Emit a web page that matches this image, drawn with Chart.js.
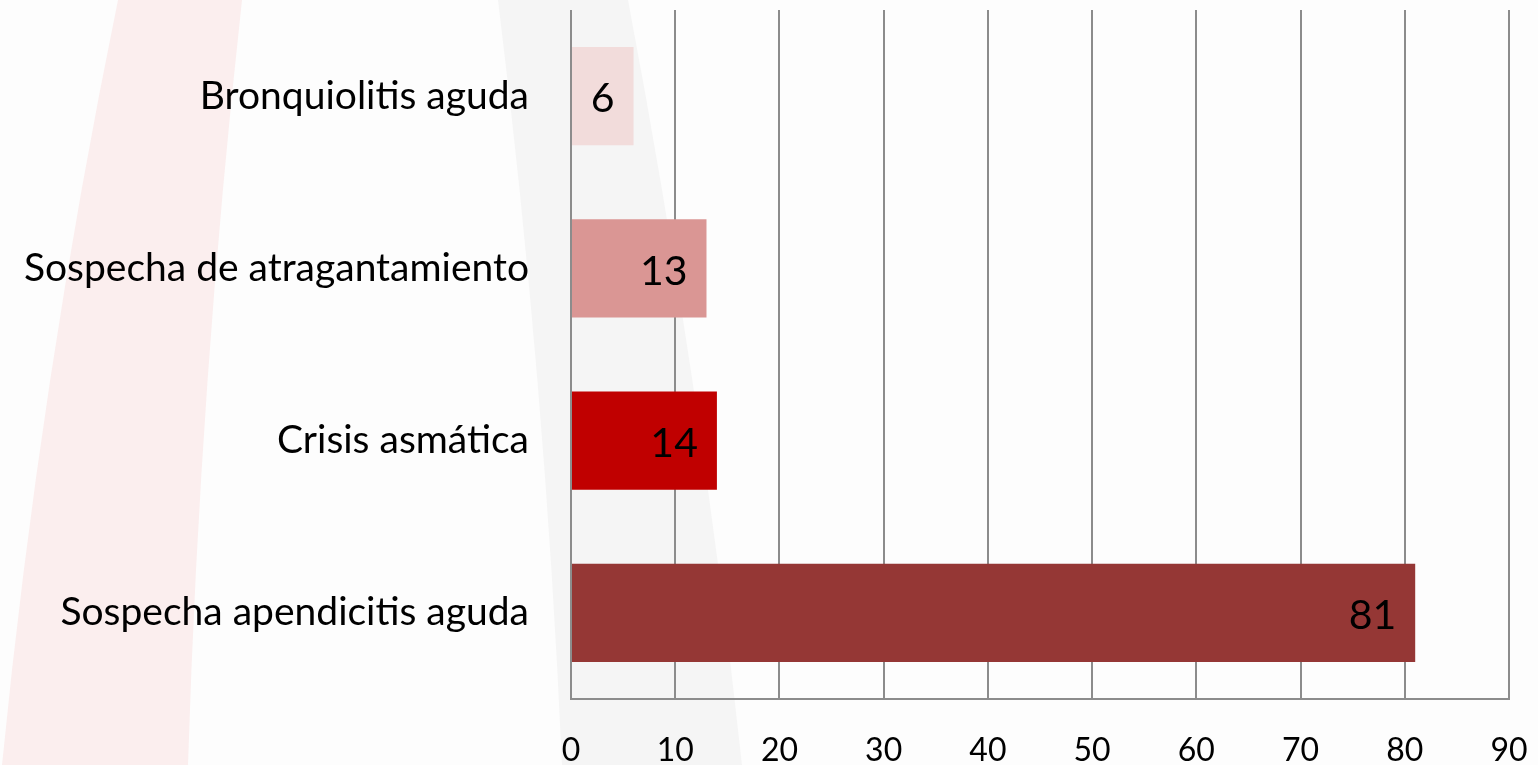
<!DOCTYPE html>
<html lang="es">
<head>
    <meta charset="UTF-8">
    <title>Motivos de consulta</title>
    <script src="https://cdn.jsdelivr.net/npm/chart.js"></script>
    <style>
        html, body { margin: 0; padding: 0; background: #fdfdfd; }
        #wrap { width: 1538px; height: 765px; position: relative; }
    </style>
</head>
<body>
<div id="wrap"><canvas id="chart"></canvas></div>
<script>
    // Datos
    const categorias = ['Bronquiolitis aguda', 'Sospecha de atragantamiento', 'Crisis asmática', 'Sospecha apendicitis aguda'];
    const valores = [6, 13, 14, 81];
    const colores = ['#F2DCDB', '#DA9694', '#C00000', '#953735'];
    const ejeMin = 0, ejeMax = 90, ejePaso = 10;

    const FUENTE = 'Lato, "Open Sans", sans-serif';

    // Fondo decorativo (bandas curvas)
    const fondo = {
        id: 'fondo',
        beforeDraw(chart) {
            const c = chart.ctx;
            c.save();
            c.fillStyle = '#fdfdfd';
            c.fillRect(0, 0, chart.width, chart.height);
            // banda rosa
            c.fillStyle = '#fbeeee';
            c.beginPath();
            c.moveTo(118, 0);
            c.quadraticCurveTo(40, 380, 2, 765);
            c.lineTo(188, 765);
            c.quadraticCurveTo(200, 380, 242, 0);
            c.closePath();
            c.fill();
            // banda gris
            c.fillStyle = '#f5f5f5';
            c.beginPath();
            c.moveTo(498, 0);
            c.quadraticCurveTo(545, 380, 562, 765);
            c.lineTo(742, 765);
            c.quadraticCurveTo(700, 380, 628, 0);
            c.closePath();
            c.fill();
            c.restore();
        }
    };

    // Etiquetas de valor dentro del extremo de cada barra
    const etiquetas = {
        id: 'etiquetas',
        afterDatasetsDraw(chart) {
            const c = chart.ctx;
            const meta = chart.getDatasetMeta(0);
            c.save();
            c.font = '41px ' + FUENTE;
            c.fillStyle = '#000';
            c.textAlign = 'right';
            c.textBaseline = 'middle';
            meta.data.forEach((bar, i) => {
                c.fillText(String(valores[i]), bar.x - 19, bar.y + 3);
            });
            c.restore();
        }
    };

    new Chart(document.getElementById('chart'), {
        type: 'bar',
        data: {
            labels: categorias,
            datasets: [{
                data: valores,
                backgroundColor: colores,
                borderWidth: 0,
                categoryPercentage: 1,
                barPercentage: 0.57
            }]
        },
        options: {
            indexAxis: 'y',
            responsive: true,
            maintainAspectRatio: false,
            animation: false,
            layout: { padding: { top: 10, right: 29, left: 0, bottom: 0 } },
            plugins: { legend: { display: false }, tooltip: { enabled: false } },
            scales: {
                x: {
                    min: ejeMin,
                    max: ejeMax,
                    afterFit(scale) {
                        scale.height = 66;
                        scale.paddingLeft = 0;
                        scale.paddingRight = 0;
                    },
                    ticks: {
                        stepSize: ejePaso,
                        color: '#000',
                        padding: 32,
                        font: { family: FUENTE, size: 32 }
                    },
                    grid: { color: '#8c8c8c', lineWidth: 2, drawTicks: false },
                    border: { color: '#8c8c8c', width: 2 }
                },
                y: {
                    afterFit(scale) {
                        scale.width = 571;
                        scale.paddingTop = 0;
                        scale.paddingBottom = 0;
                    },
                    ticks: {
                        color: '#000',
                        padding: 42,
                        font: { family: FUENTE, size: 39 }
                    },
                    grid: { display: false, drawTicks: false },
                    border: { display: false }
                }
            }
        },
        plugins: [fondo, etiquetas]
    });
</script>
</body>
</html>
